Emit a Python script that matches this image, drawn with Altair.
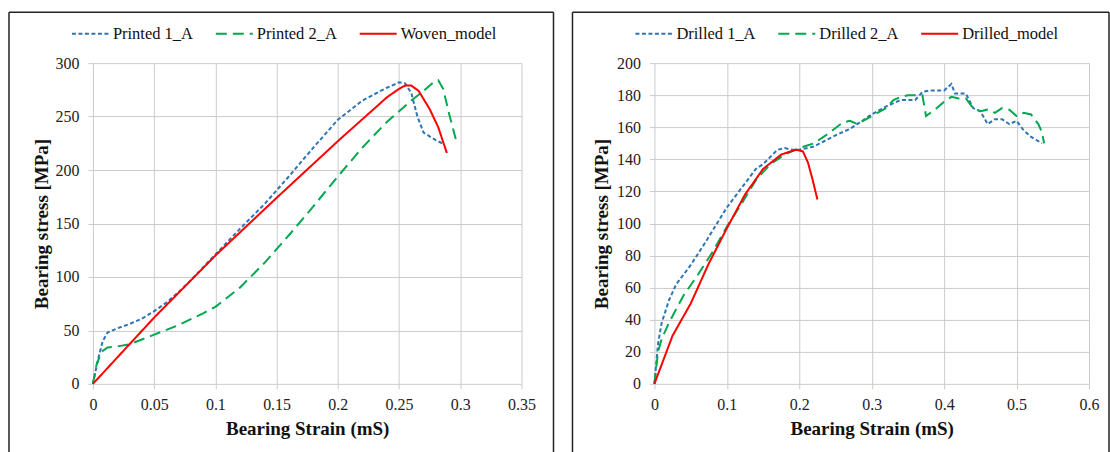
import altair as alt
import pandas as pd

# ---------------- Left panel: Printed / Woven ----------------
printed1_x = [0, 0.004, 0.008, 0.012, 0.02, 0.03, 0.04, 0.05, 0.06, 0.07, 0.08, 0.1, 0.12, 0.14,
              0.16, 0.18, 0.2, 0.22, 0.24, 0.25, 0.255, 0.26, 0.265, 0.27, 0.28, 0.287]
printed1_y = [0, 22, 40, 48, 52, 56, 61, 68, 76, 86, 97, 121, 145, 168,
              194, 221, 247, 265, 277, 282, 281, 272, 250, 235, 228, 224]

printed2_x = [0, 0.003, 0.007, 0.012, 0.02, 0.03, 0.05, 0.07, 0.09, 0.1, 0.12, 0.14, 0.16,
              0.18, 0.2, 0.22, 0.24, 0.26, 0.27, 0.278, 0.282, 0.286, 0.291, 0.297]
printed2_y = [0, 18, 30, 34, 35, 37, 46, 55, 66, 72, 90, 113, 139,
              166, 194, 221, 245, 265, 274, 282, 284, 276, 252, 226]

woven_x = [0, 0.05, 0.1, 0.15, 0.2, 0.24, 0.25, 0.255, 0.26, 0.266, 0.275, 0.282, 0.289]
woven_y = [0, 62, 120, 174, 227, 268, 276, 279, 279, 274, 257, 240, 216]

# ---------------- Right panel: Drilled ----------------
drilled1_x = [0, 0.005, 0.01, 0.02, 0.03, 0.05, 0.07, 0.1, 0.12, 0.14, 0.15, 0.17, 0.18, 0.19,
              0.2, 0.22, 0.25, 0.27, 0.3, 0.32, 0.34, 0.36, 0.37, 0.38, 0.4, 0.41, 0.415,
              0.43, 0.44, 0.45, 0.46, 0.47, 0.48, 0.49, 0.5, 0.51, 0.52, 0.535]
drilled1_y = [0, 25, 38, 52, 62, 74, 88, 110, 122, 134, 137, 146, 147, 146,
              146, 148, 155, 159, 168, 173, 177, 177, 182, 183, 183, 187, 181,
              181, 172, 170, 162, 165, 165, 162, 164, 158, 154, 150]

drilled2_x = [0, 0.005, 0.01, 0.02, 0.04, 0.06, 0.08, 0.1, 0.12, 0.14, 0.16, 0.18, 0.2, 0.22,
              0.24, 0.26, 0.27, 0.28, 0.3, 0.32, 0.33, 0.34, 0.35, 0.36, 0.37, 0.375, 0.39,
              0.4, 0.41, 0.42, 0.43, 0.44, 0.45, 0.46, 0.47, 0.48, 0.49, 0.5, 0.51, 0.52,
              0.53, 0.535, 0.538]
drilled2_y = [0, 20, 28, 38, 55, 68, 82, 98, 112, 127, 137, 143, 147, 150,
              156, 163, 164, 162, 167, 172, 177, 179, 180, 180, 180, 167, 172,
              176, 179, 178, 178, 172, 170, 171, 169, 172, 171, 167, 169, 168,
              162, 157, 150]

drilledm_x = [0, 0.01, 0.025, 0.05, 0.075, 0.1, 0.125, 0.15, 0.175, 0.195, 0.205, 0.212, 0.218, 0.225]
drilledm_y = [0, 12, 30, 50, 75, 97, 118, 134, 143, 146, 145, 138, 128, 115]

left_names = ["Printed 1_A", "Printed 2_A", "Woven_model"]
right_names = ["Drilled 1_A", "Drilled 2_A", "Drilled_model"]
colors = ["#2E75B6", "#00A850", "#FF0000"]
dashes = [[4, 2.5], [11, 6], [1, 0]]

left_x_ticks = [0, 0.05, 0.1, 0.15, 0.2, 0.25, 0.3, 0.35]
left_y_ticks = [0, 50, 100, 150, 200, 250, 300]
right_x_ticks = [0, 0.1, 0.2, 0.3, 0.4, 0.5, 0.6]
right_y_ticks = [0, 20, 40, 60, 80, 100, 120, 140, 160, 180, 200]


def make_df(names, xs, ys):
    rows = []
    for n, xx, yy in zip(names, xs, ys):
        for i, (a, b) in enumerate(zip(xx, yy)):
            rows.append({"series": n, "strain": a, "stress": b, "idx": i})
    return pd.DataFrame(rows)


FONT = "Liberation Serif"
GRID = "#cbcbcb"


def panel(df, names, xdom, xticks, ydom, yticks, width, height, legx, bx0, bx1, ytitlex):
    leg = alt.Legend(orient="none", direction="horizontal", legendX=legx, legendY=-49,
                     title=None, symbolType="stroke", symbolSize=1369, symbolStrokeWidth=2,
                     labelFont=FONT, labelFontSize=16.5, labelColor="#111", labelOffset=3,
                     columnPadding=18)
    lines = alt.Chart(df).mark_line(strokeWidth=2).encode(
        x=alt.X("strain:Q", scale=alt.Scale(domain=xdom, nice=False, zero=False),
                axis=alt.Axis(values=xticks, format="~g", title="Bearing Strain (mS)",
                              titleX=width / 2, titleY=45, titleBaseline="middle",
                              titleAlign="center", labelFlush=False, labelOverlap=False)),
        y=alt.Y("stress:Q", scale=alt.Scale(domain=ydom, nice=False, zero=False),
                axis=alt.Axis(values=yticks, title="Bearing stress  [MPa]",
                              titleX=ytitlex, titleY=height / 2, titleAngle=270,
                              titleBaseline="middle", titleAlign="center",
                              labelFlush=False, labelOverlap=False)),
        color=alt.Color("series:N", scale=alt.Scale(domain=names, range=colors), legend=leg),
        strokeDash=alt.StrokeDash("series:N", scale=alt.Scale(domain=names, range=dashes), legend=leg),
        order="idx:Q",
    )
    one = alt.Chart(pd.DataFrame({"k": [0]}))
    top = one.mark_rule(color="#222", strokeWidth=1.5).encode(
        x=alt.value(bx0), x2=alt.value(bx1), y=alt.value(-51))
    lft = one.mark_rule(color="#222", strokeWidth=1.5).encode(
        x=alt.value(bx0), y=alt.value(-51), y2=alt.value(390))
    rgt = one.mark_rule(color="#222", strokeWidth=1.5).encode(
        x=alt.value(bx1), y=alt.value(-51), y2=alt.value(390))
    return alt.layer(lines, top, lft, rgt).properties(width=width, height=height)


left = panel(make_df(left_names, [printed1_x, printed2_x, woven_x], [printed1_y, printed2_y, woven_y]),
             left_names, [0, 0.35], left_x_ticks, [0, 300], left_y_ticks, 429, 321, -22, -84, 461, -51)
right = panel(make_df(right_names, [drilled1_x, drilled2_x, drilledm_x], [drilled1_y, drilled2_y, drilledm_y]),
              right_names, [0, 0.6], right_x_ticks, [0, 200], right_y_ticks, 435, 321, -20, -82, 455, -53)

chart = alt.hconcat(left, right, spacing=133, bounds="flush").resolve_scale(
    color="independent", strokeDash="independent"
).resolve_legend(
    color="independent", strokeDash="independent"
).properties(
    padding={"left": 8, "top": 11, "right": 0, "bottom": 0}
).configure_view(stroke=None).configure_axis(
    grid=True, gridColor=GRID, gridWidth=1, domain=False, tickColor=GRID, tickSize=5,
    labelFont=FONT, labelFontSize=16, labelColor="#222", labelPadding=8,
    titleFont=FONT, titleFontSize=19, titleFontWeight="bold", titleColor="#111",
).configure_axisY(labelPadding=9)

chart.save("out.html", embed_options={"renderer": "svg", "actions": False})
